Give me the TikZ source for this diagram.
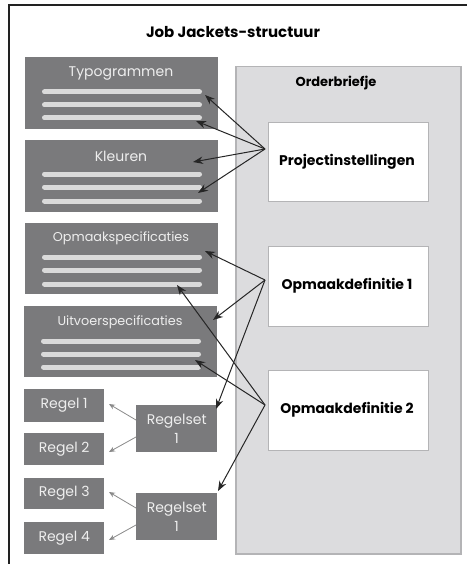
\documentclass[tikz,border=0pt]{standalone}
\usepackage{fontspec}
\setmainfont{Poppins}
\usetikzlibrary{arrows.meta}
\definecolor{boxgray}{HTML}{7A7A7C}
\definecolor{barcol}{HTML}{DADADA}
\definecolor{panelfill}{HTML}{DCDCDE}
\definecolor{paneldraw}{HTML}{B4B4B6}
\definecolor{boxtext}{HTML}{EEEEEE}
\definecolor{framecol}{HTML}{222222}
\definecolor{greyarrow}{HTML}{8A8A8A}
\tikzset{
  darkbox/.style={fill=boxgray, draw=none, inner sep=0pt, anchor=north west},
  boxlabel/.style={text=boxtext, font=\fontsize{14}{16}\selectfont, inner sep=0pt},
  longlabel/.style={boxlabel, font=\fontsize{12.8}{14}\selectfont},
  bar/.style={barcol, line width=5pt, line cap=round},
  whitebox/.style={fill=white, draw=paneldraw, line width=1pt, inner sep=0pt, anchor=north west},
  boldlabel/.style={font=\bfseries\fontsize{14}{16}\selectfont, inner sep=0pt},
  blackarrow/.style={-{Stealth[length=10pt,width=7.5pt]}, line width=1pt, black!85},
  greyarr/.style={-{Stealth[length=6pt,width=5pt]}, line width=0.8pt, greyarrow},
}
\begin{document}
\begin{tikzpicture}[x=1pt,y=-1pt]
\useasboundingbox (0,0) rectangle (467,564);
\fill[white] (0,0) rectangle (467,564);
% frame
\draw[framecol, line width=2pt] (9,564) -- (9,5) -- (467,5);
% title
\node[font=\bfseries\fontsize{15}{17}\selectfont, inner sep=0pt] (title) at (233,32) {Job Jackets-structuur};
% panel
\node[fill=panelfill, draw=paneldraw, line width=1.5pt, inner sep=0pt, anchor=north west, minimum width=225pt, minimum height=487pt] (panel) at (235,66) {};
\node[boldlabel, font=\bfseries\fontsize{13}{15}\selectfont] (ptitle) at (336,83) {Orderbriefje};
% white boxes
\node[whitebox, minimum width=160pt, minimum height=79pt] (proj) at (268,122) {};
\node[boldlabel] (projt) at (347,162) {Projectinstellingen};
\node[whitebox, minimum width=160pt, minimum height=80pt] (od1) at (268,246) {};
\node[boldlabel] (od1t) at (347,286) {Opmaakdefinitie 1};
\node[whitebox, minimum width=160pt, minimum height=80pt] (od2) at (268,370) {};
\node[boldlabel] (od2t) at (347,410) {Opmaakdefinitie 2};
% dark boxes
\node[darkbox, minimum width=193pt, minimum height=72pt] (typ) at (25,57) {};
\node[boxlabel] (typt) at (121,74) {Typogrammen};
\draw[bar] (44.5,92) -- (199.5,92) coordinate (typ1);
\draw[bar] (44.5,105) -- (199.5,105) coordinate (typ2);
\draw[bar] (44.5,118) -- (199.5,118) coordinate (typ3);

\node[darkbox, minimum width=193pt, minimum height=72pt] (kle) at (25,140) {};
\node[boxlabel] (klet) at (121,156) {Kleuren};
\draw[bar] (44.5,174) -- (199.5,174) coordinate (kle1);
\draw[bar] (44.5,187) -- (199.5,187) coordinate (kle2);
\draw[bar] (44.5,201) -- (199.5,201) coordinate (kle3);

\node[darkbox, minimum width=193pt, minimum height=71pt] (ops) at (25,223) {};
\node[longlabel] (opst) at (121,238) {Opmaakspecificaties};
\draw[bar] (44.5,257) -- (199.5,257) coordinate (ops1);
\draw[bar] (44.5,270) -- (199.5,270) coordinate (ops2);
\draw[bar] (44.5,284) -- (199.5,284) coordinate (ops3);

\node[darkbox, minimum width=193pt, minimum height=71pt] (uit) at (24,306) {};
\node[longlabel] (uitt) at (120,322) {Uitvoerspecificaties};
\draw[bar] (43.5,341) -- (198.5,341) coordinate (uit1);
\draw[bar] (43.5,354) -- (198.5,354) coordinate (uit2);
\draw[bar] (43.5,367) -- (198.5,367) coordinate (uit3);

% regel boxes
\node[darkbox, minimum width=80pt, minimum height=33pt] (r1) at (24,389) {};
\node[boxlabel] at (r1.center) {Regel 1};
\node[darkbox, minimum width=80pt, minimum height=32pt] (r2) at (24,433) {};
\node[boxlabel] at (r2.center) {Regel 2};
\node[darkbox, minimum width=80pt, minimum height=31pt] (r3) at (24,478) {};
\node[boxlabel] at (r3.center) {Regel 3};
\node[darkbox, minimum width=80pt, minimum height=32pt] (r4) at (24,522) {};
\node[boxlabel] at (r4.center) {Regel 4};
\node[darkbox, minimum width=81pt, minimum height=47pt] (rs1) at (136,405) {};
\node[boxlabel, align=center, font=\fontsize{14}{19}\selectfont] at (rs1.center) {Regelset\\1};
\node[darkbox, minimum width=81pt, minimum height=47pt] (rs2) at (136,493) {};
\node[boxlabel, align=center, font=\fontsize{14}{19}\selectfont] at (rs2.center) {Regelset\\1};

% grey arrows
\draw[greyarr] (rs1.west |- 0,420) -- (109,404);
\draw[greyarr] (rs1.west |- 0,437) -- (109,452);
\draw[greyarr] (rs2.west |- 0,508) -- (109,492);
\draw[greyarr] (rs2.west |- 0,525) -- (109,540);

% black arrows
\coordinate (sp) at (265,149);
\coordinate (s1) at (265,280);
\coordinate (s2) at (265,405);
\draw[blackarrow] (sp) -- (205,95);
\draw[blackarrow] (sp) -- (196,121);
\draw[blackarrow] (sp) -- (193,162);
\draw[blackarrow] (sp) -- (198,193);
\draw[blackarrow] (s1) -- (205,251);
\draw[blackarrow] (s1) -- (213,320);
\draw[blackarrow] (s1) -- (216,409);
\draw[blackarrow] (s2) -- (177,285);
\draw[blackarrow] (s2) -- (195,360);
\draw[blackarrow] (s2) -- (218,491);
\end{tikzpicture}
\end{document}
